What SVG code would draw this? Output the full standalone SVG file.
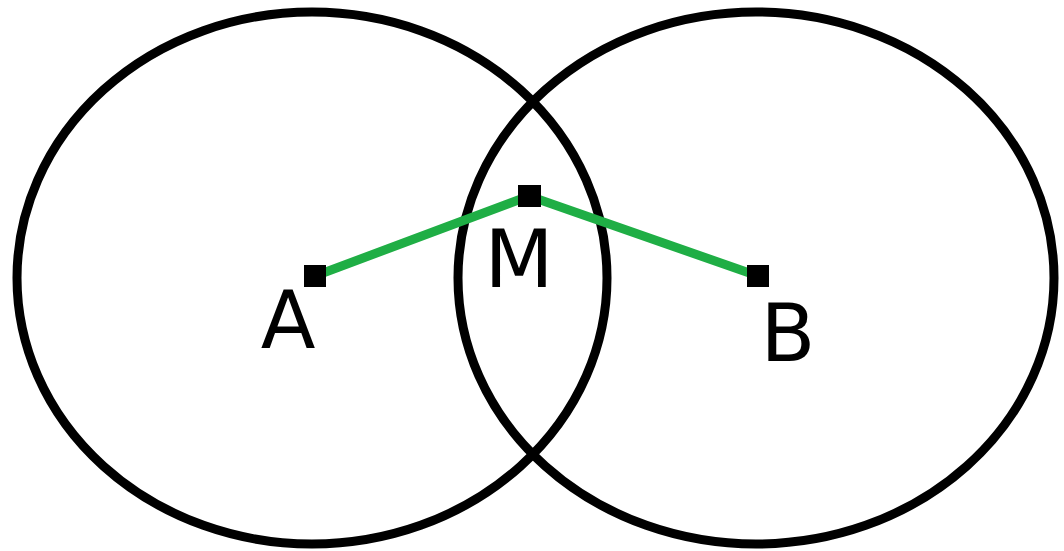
<svg xmlns="http://www.w3.org/2000/svg" width="1064" height="551" viewBox="0 0 1064 551">
<style>
.circ{fill:none;stroke:#000;stroke-width:9}
.seg{fill:none;stroke:#1fae45;stroke-width:9;stroke-linejoin:round}
.pt{fill:#000}
.lbl{font-family:"DejaVu Sans",Verdana,sans-serif;font-size:80px;fill:#000;text-anchor:middle}
</style>
<rect width="1064" height="551" fill="#fff"/>
<g id="circle-left"><ellipse class="circ" cx="312" cy="278" rx="295" ry="266"/></g>
<g id="circle-right"><ellipse class="circ" cx="756" cy="278" rx="298" ry="266"/></g>
<g id="connectors">
<polyline class="seg" points="315,276 529,196 758,276"/>
</g>
<g id="node-A"><rect class="pt" x="304" y="265" width="22" height="22"/><text class="lbl" x="288" y="348">A</text></g>
<g id="node-M"><rect class="pt" x="518" y="185" width="23" height="22"/><text class="lbl" x="519" y="287">M</text></g>
<g id="node-B"><rect class="pt" x="747" y="265" width="22" height="22"/><text class="lbl" x="788" y="361">B</text></g>
</svg>
